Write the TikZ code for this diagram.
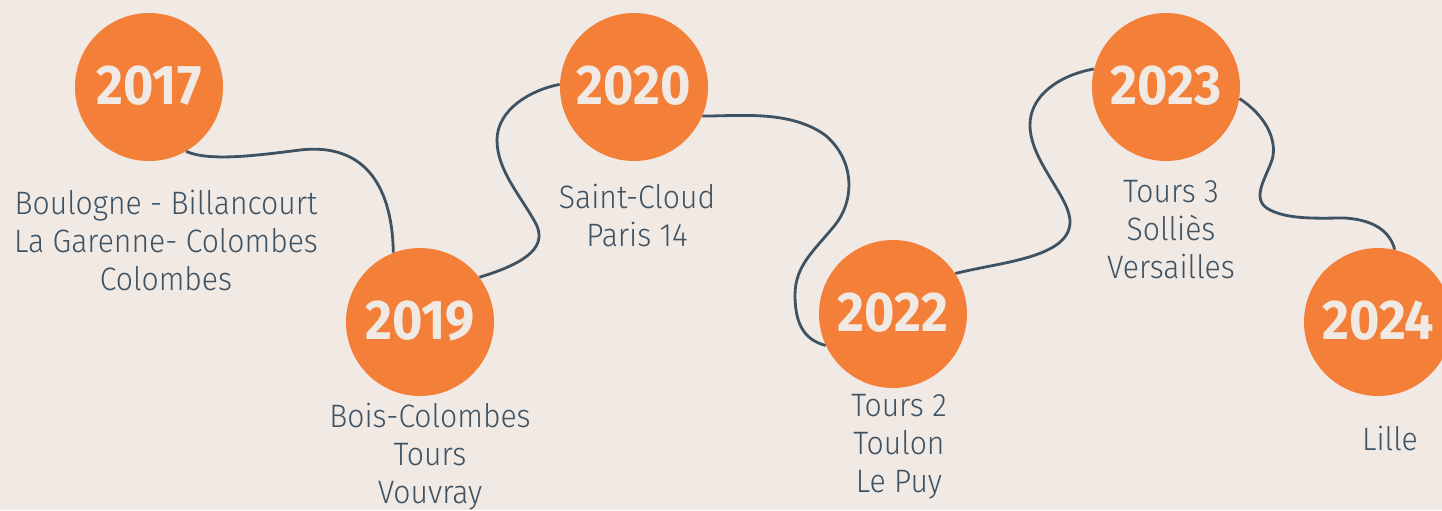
\documentclass[tikz,border=0pt]{standalone}
\usepackage{fontspec}
\setmainfont{Fira Sans Light}[FakeStretch=0.93, BoldFont={Fira Sans Bold}]
\usetikzlibrary{positioning}
\definecolor{bgbeige}{HTML}{F0E9E4}
\definecolor{yearorange}{HTML}{F47F38}
\definecolor{slateline}{HTML}{3E5262}

\tikzset{
  year/.style={circle, fill=yearorange, minimum size=74pt, inner sep=0pt,
    text=bgbeige, font=\fontsize{28}{30}\selectfont\bfseries},
  town/.style={align=center, text=slateline, font=\fontsize{16.2}{19}\selectfont},
  road/.style={slateline, line width=1.4pt}
}

\begin{document}
\begin{tikzpicture}[x=0.5pt, y=-0.5pt]

\fill[bgbeige] (0,0) rectangle (1442,510);
\useasboundingbox (0,0) rectangle (1442,510);

% years
{
\node[year] (y17) at (149,87) {\raisebox{1.5pt}{2017}};
\node[year] (y19) at (420,322) {\raisebox{1.5pt}{2019}};
\node[year] (y20) at (634,87) {\raisebox{1.5pt}{2020}};
\node[year] (y22) at (893,314) {\raisebox{1.5pt}{2022}};
\node[year] (y23) at (1166,87) {\raisebox{1.5pt}{2023}};
\node[year] (y24) at (1378,322) {\raisebox{1.5pt}{2024}};
}

% towns
{
\node[town] (t17) at (166,240) {Boulogne - Billancourt\\La Garenne- Colombes\\Colombes};
\node[town] (t19) at (430,457) {Bois-Colombes\\Tours\\Vouvray};
\node[town] (t20) at (637,215) {Saint-Cloud\\Paris 14};
\node[town] (t22) at (899,447) {Tours 2\\Toulon\\Le Puy};
\node[town] (t23) at (1171,230) {Tours 3\\Solliès\\Versailles};
\node[town] (t24) at (1390,438) {Lille};
}

% winding road
{
\draw[road] (y17.-60) .. controls (210,162) and (260,155) .. (300,150)
  .. controls (360,143) and (392,180) .. (y19.111);

\draw[road] (y19.37) .. controls (530,262) and (548,245) .. (535,222)
  .. controls (520,195) and (497,170) .. (497,140)
  .. controls (497,110) and (530,90) .. (y20.178);

\draw[road] (y20.-23) .. controls (740,116) and (790,110) .. (825,135)
  .. controls (855,160) and (855,200) .. (835,225)
  .. controls (815,250) and (795,265) .. (795,295)
  .. controls (795,325) and (805,340) .. (y22.205);

\draw[road] (y22.33) .. controls (1000,262) and (1072,258) .. (1070,220)
  .. controls (1068,195) and (1030,160) .. (1030,125)
  .. controls (1030,95) and (1060,75) .. (y23.166);

\draw[road] (y23.-9) .. controls (1265,115) and (1278,140) .. (1272,160)
  .. controls (1265,180) and (1250,200) .. (1270,210)
  .. controls (1290,220) and (1320,218) .. (1345,218)
  .. controls (1375,220) and (1390,232) .. (y24.77);
}

\end{tikzpicture}
\end{document}
